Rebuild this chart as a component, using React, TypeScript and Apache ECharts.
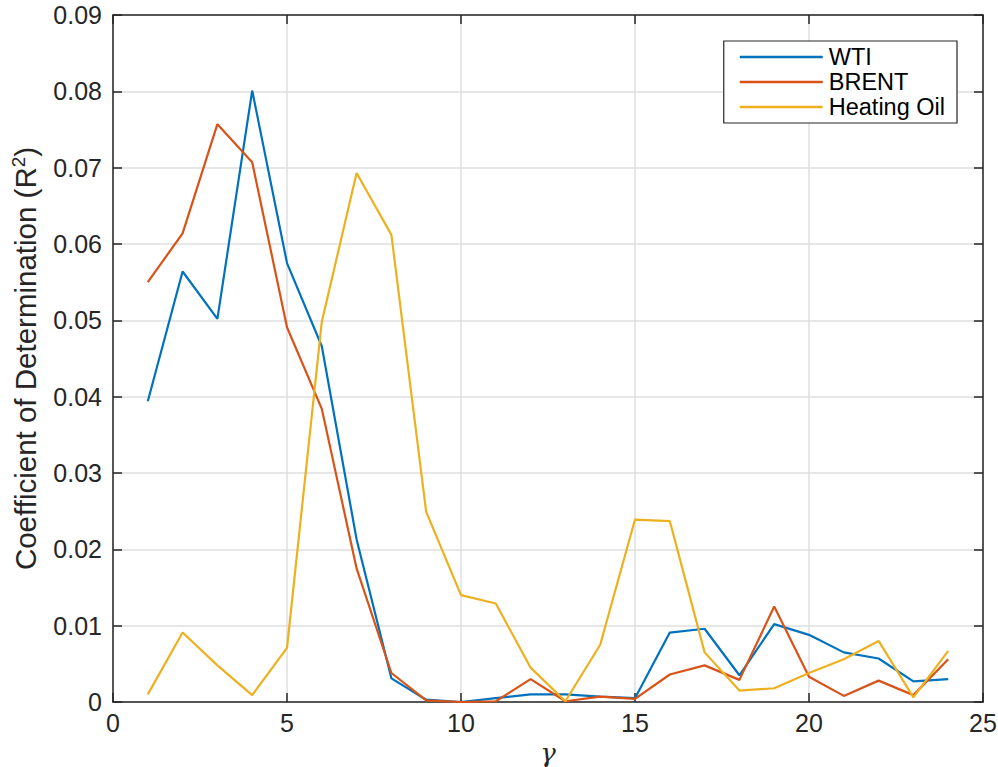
import React, { useEffect, useRef } from "react";
import * as echarts from "echarts";

const gammas = [1, 2, 3, 4, 5, 6, 7, 8, 9, 10, 11, 12, 13, 14, 15, 16, 17, 18, 19, 20, 21, 22, 23, 24];
const wti = [0.0394, 0.0564, 0.0502, 0.0801, 0.0575, 0.0466, 0.0213, 0.0031, 0.0003, 0.0, 0.0005, 0.001, 0.001, 0.0007, 0.0005, 0.0091, 0.0096, 0.0035, 0.0102, 0.0088, 0.0065, 0.0057, 0.0027, 0.003];
const brent = [0.055, 0.0614, 0.0757, 0.0707, 0.0491, 0.0384, 0.0175, 0.0038, 0.0002, 0.0, 0.0001, 0.003, 0.0001, 0.0007, 0.0004, 0.0036, 0.0048, 0.0029, 0.0125, 0.0033, 0.0008, 0.0028, 0.0009, 0.0056];
const heating = [0.001, 0.0091, 0.0048, 0.0009, 0.0071, 0.0498, 0.0693, 0.0612, 0.0249, 0.014, 0.0129, 0.0045, 0.0001, 0.0075, 0.0239, 0.0237, 0.0065, 0.0015, 0.0018, 0.0038, 0.0056, 0.008, 0.0006, 0.0067];
const seriesNames = ["WTI", "BRENT", "Heating Oil"];
const colors = ["#0072BD", "#D95319", "#EDB120"];

export default function App() {
  const ref = useRef<HTMLDivElement>(null);
  useEffect(() => {
    document.body.style.margin = "0";
    document.body.style.overflow = "hidden";
    const chart = echarts.init(ref.current!, null, { renderer: "svg", width: 998, height: 767 });
    const font = "Liberation Sans, Arial, Helvetica, sans-serif";
    const axisColor = "#262626";
    const toPairs = (arr: number[]) => gammas.map((g, i) => [g, arr[i]]);
    const allData = [wti, brent, heating];
    chart.setOption({
      animation: false,
      backgroundColor: "#ffffff",
      textStyle: { fontFamily: font },
      grid: { left: 113, right: 15, top: 15, bottom: 65, containLabel: false, outerBoundsMode: "none" },
      legend: {
        right: 41,
        top: 41,
        orient: "vertical",
        backgroundColor: "#ffffff",
        borderColor: "#262626",
        borderWidth: 1.2,
        borderRadius: 0,
        padding: [4, 12, 4, 16],
        icon: "rect",
        itemWidth: 83,
        itemHeight: 2.5,
        itemGap: 1,
        textStyle: { fontSize: 23.5, fontFamily: font, color: "#000", lineHeight: 23, padding: [0, 0, 0, 1] },
        data: seriesNames,
      },
      xAxis: [
        {
          type: "value",
          min: 0,
          max: 25,
          interval: 5,
          name: "γ",
          nameLocation: "middle",
          nameGap: 36,
          nameTextStyle: { fontFamily: "DejaVu Serif, Liberation Serif, serif", fontStyle: "italic", fontSize: 26, color: axisColor },
          axisLine: { show: true, onZero: false, lineStyle: { color: axisColor, width: 1.5 } },
          axisTick: { show: true, inside: true, length: 9, lineStyle: { color: axisColor, width: 1.5 } },
          axisLabel: { fontSize: 25, color: axisColor, margin: 8, fontFamily: font },
          splitLine: { show: true, lineStyle: { color: "#dfdfdf", width: 1.5 } },
        },
        {
          type: "value",
          position: "top",
          min: 0,
          max: 25,
          interval: 5,
          axisLine: { show: true, onZero: false, lineStyle: { color: axisColor, width: 1.5 } },
          axisTick: { show: true, inside: true, length: 9, lineStyle: { color: axisColor, width: 1.5 } },
          axisLabel: { show: false },
          splitLine: { show: false },
        },
      ],
      yAxis: [
        {
          type: "value",
          min: 0,
          max: 0.09,
          interval: 0.01,
          name: "Coefficient of Determination (R{sup|2})",
          nameLocation: "middle",
          nameGap: 71,
          nameRotate: 90,
          nameTextStyle: {
            fontSize: 29.5,
            color: axisColor,
            fontFamily: font,
            rich: { sup: { fontSize: 19, verticalAlign: "top", padding: [0, 0, 14, 0], color: axisColor, fontFamily: font } },
          },
          axisLine: { show: true, onZero: false, lineStyle: { color: axisColor, width: 1.5 } },
          axisTick: { show: true, inside: true, length: 9, lineStyle: { color: axisColor, width: 1.5 } },
          axisLabel: {
            fontSize: 25,
            color: axisColor,
            margin: 11,
            fontFamily: font,
            formatter: (v: number) => (v === 0 ? "0" : v.toFixed(2)),
          },
          splitLine: { show: true, lineStyle: { color: "#dfdfdf", width: 1.5 } },
        },
        {
          type: "value",
          position: "right",
          min: 0,
          max: 0.09,
          interval: 0.01,
          axisLine: { show: true, onZero: false, lineStyle: { color: axisColor, width: 1.5 } },
          axisTick: { show: true, inside: true, length: 9, lineStyle: { color: axisColor, width: 1.5 } },
          axisLabel: { show: false },
          splitLine: { show: false },
        },
      ],
      series: seriesNames.map((name, i) => ({
        name,
        type: "line",
        xAxisIndex: 0,
        yAxisIndex: 0,
        data: toPairs(allData[i]),
        symbol: "none",
        color: colors[i],
        lineStyle: { color: colors[i], width: 2.2 },
        z: 3 + i,
      })),
    });
    return () => chart.dispose();
  }, []);
  return <div ref={ref} style={{ width: 998, height: 767, position: "absolute", left: 0, top: 0, overflow: "hidden" }} />;
}
